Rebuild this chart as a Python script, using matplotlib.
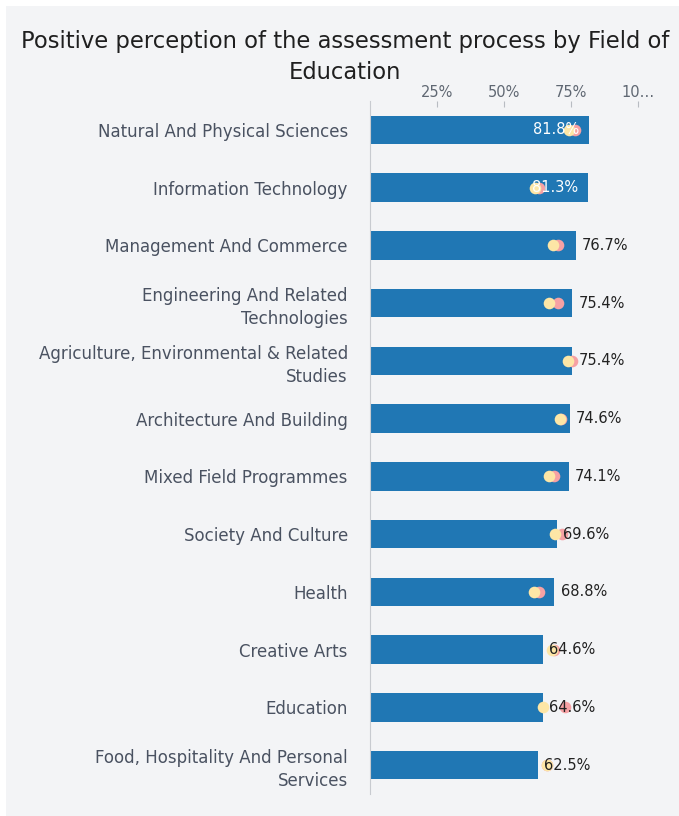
import matplotlib
matplotlib.use("Agg")
import matplotlib.pyplot as plt
from matplotlib.patches import Rectangle

# data
fields = [
    "Natural And Physical Sciences",
    "Information Technology",
    "Management And Commerce",
    "Engineering And Related\nTechnologies",
    "Agriculture, Environmental & Related\nStudies",
    "Architecture And Building",
    "Mixed Field Programmes",
    "Society And Culture",
    "Health",
    "Creative Arts",
    "Education",
    "Food, Hospitality And Personal\nServices",
]
positive = [81.8, 81.3, 76.7, 75.4, 75.4, 74.6, 74.1, 69.6, 68.8, 64.6, 64.6, 62.5]
pink_vals = [76.5, 63.1, 70.1, 70.1, 75.4, 71.3, 68.7, 71.6, 63.1, 68.7, 72.8, 66.0]
yellow_vals = [74.3, 61.6, 68.4, 66.8, 73.9, 70.9, 66.8, 69.0, 61.2, 68.0, 64.6, 66.0]
xticks = [25, 50, 75, 100]
xtick_labels = ["25%", "50%", "75%", "10\u2026"]

plt.rcParams['font.family'] = ['DejaVu Sans']

W, H = 679, 816
fig = plt.figure(figsize=(W / 100, H / 100), dpi=100)
fig.patch.set_facecolor("white")
bg = "#f3f4f6"
fig.patches.append(Rectangle((6 / W, 0), 1, 1 - 6 / H, transform=fig.transFigure,
                             facecolor=bg, edgecolor="none", zorder=-10))

ax = fig.add_axes([370 / W, 1 - 794 / H, 268 / W, (794 - 101) / H])
ax.set_facecolor(bg)

y = list(range(len(fields)))
ax.barh(y, positive, height=0.49, color="#2077b4", zorder=2)
ax.scatter(pink_vals, y, s=70, color="#f6a1a4", zorder=3, linewidths=0)
ax.scatter(yellow_vals, y, s=70, color="#fde6a6", zorder=4, linewidths=0)

for yi, v in zip(y, positive):
    txt = f"{v}%"
    if v > 80:
        ax.annotate(txt, (v, yi), xytext=(-7, 0), textcoords="offset points",
                    ha="right", va="center", color="white", fontsize=10.5, zorder=5)
    else:
        ax.annotate(txt, (v, yi), xytext=(4.5, 0), textcoords="offset points",
                    ha="left", va="center", color="#222222", fontsize=10.5, zorder=5)

ax.set_xlim(0, 100)
ax.set_ylim(len(fields) - 0.5, -0.5)
ax.set_yticks(y)
ax.set_yticklabels(fields, fontsize=12, color="#4a5261", linespacing=1.35)
ax.tick_params(axis="y", length=0, pad=16)
ax.xaxis.tick_top()
ax.set_xticks(xticks)
ax.set_xticklabels(xtick_labels, fontsize=10.5, color="#5f6772")
ax.tick_params(axis="x", length=4, direction="in", color="#b8bcc2", pad=0.5)
for s in ["right", "bottom", "top"]:
    ax.spines[s].set_visible(False)
ax.spines["left"].set_color("#c8cbd0")

fig.text(345 / W, 1 - 57 / H, "Positive perception of the assessment process by Field of\nEducation",
         ha="center", va="center", fontsize=16.3, color="#1f1f1f", linespacing=1.42)

fig.savefig("out.png", dpi=100, facecolor=fig.get_facecolor())
